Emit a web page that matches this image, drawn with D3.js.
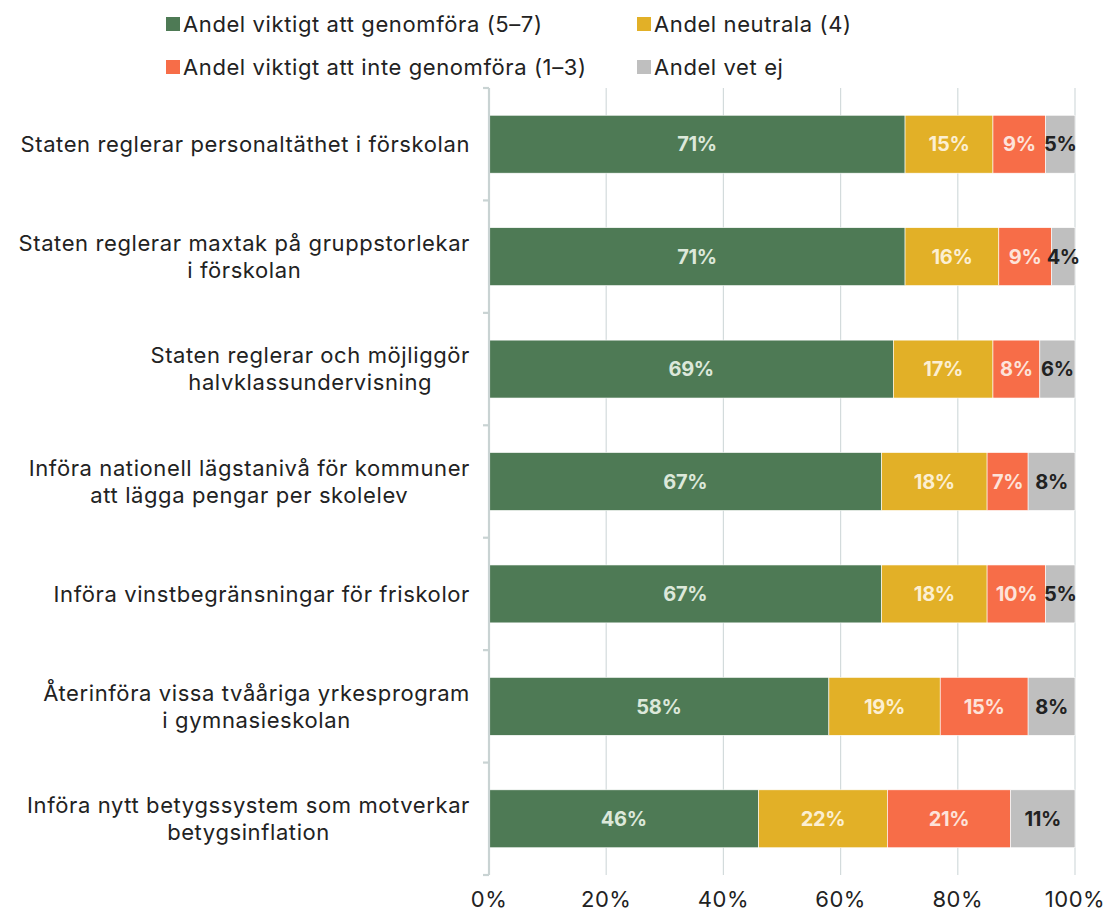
<!DOCTYPE html>
<html>
<head>
<meta charset="utf-8">
<script src="https://cdn.jsdelivr.net/npm/d3@7"></script>
<style>
  body { margin: 0; background: #fff; }
  text { font-family: Inter, "Noto Sans", sans-serif; fill: #222; }
</style>
</head>
<body>
<svg id="chart"></svg>
<script>
// Chart size
const width = 1105;
const height = 917;
const margin = { top: 88, right: 30, bottom: 42, left: 489 };

// Data
const categories = [
  ["Staten reglerar personaltäthet i förskolan"],
  ["Staten reglerar maxtak på gruppstorlekar", "i förskolan"],
  ["Staten reglerar och möjliggör", "halvklassundervisning"],
  ["Införa nationell lägstanivå för kommuner", "att lägga pengar per skolelev"],
  ["Införa vinstbegränsningar för friskolor"],
  ["Återinföra vissa tvååriga yrkesprogram", "i gymnasieskolan"],
  ["Införa nytt betygssystem som motverkar", "betygsinflation"]
];
const seriesNames = [
  "Andel viktigt att genomföra (5–7)",
  "Andel neutrala (4)",
  "Andel viktigt att inte genomföra (1–3)",
  "Andel vet ej"
];
const viktigt = [71, 71, 69, 67, 67, 58, 46];
const neutrala = [15, 16, 17, 18, 18, 19, 22];
const inteViktigt = [9, 9, 8, 7, 10, 15, 21];
const vetEj = [5, 4, 6, 8, 5, 8, 11];
const xTicks = [0, 20, 40, 60, 80, 100];

const colors = ["#4E7A55", "#E2B027", "#F76D48", "#BFBFBF"];
const labelColors = ["#DCE8DA", "#FCEFD2", "#FDE3DA", "#222222"];

// Build rows for the stack
const rows = categories.map((c, i) => ({
  key: i,
  s0: viktigt[i], s1: neutrala[i], s2: inteViktigt[i], s3: vetEj[i]
}));
const stack = d3.stack().keys(["s0", "s1", "s2", "s3"])(rows);

const svg = d3.select("#chart").attr("width", width).attr("height", height);

const x = d3.scaleLinear().domain([0, 100]).range([margin.left, width - margin.right]);
const y = d3.scaleBand().domain(d3.range(categories.length))
  .range([margin.top, height - margin.bottom]).paddingInner(0.485).paddingOuter(0.2425);

// Gridlines
svg.append("g").selectAll("line")
  .data(xTicks.slice(1))
  .enter().append("line")
  .attr("x1", d => x(d)).attr("x2", d => x(d))
  .attr("y1", margin.top).attr("y2", height - margin.bottom)
  .attr("stroke", "#D3DBDC").attr("stroke-width", 1.2);

// Bars
const layer = svg.append("g").selectAll("g")
  .data(stack)
  .enter().append("g")
  .attr("fill", (d, i) => colors[i]);

layer.selectAll("rect")
  .data(d => d)
  .enter().append("rect")
  .attr("x", d => x(d[0]))
  .attr("y", (d, i) => y(i))
  .attr("width", d => x(d[1]) - x(d[0]))
  .attr("height", y.bandwidth())
  .attr("stroke", "#fff").attr("stroke-width", 0.6);

// Value labels
stack.forEach((s, si) => {
  svg.append("g").selectAll("text")
    .data(s)
    .enter().append("text")
    .attr("x", d => (x(d[0]) + x(d[1])) / 2)
    .attr("y", (d, i) => y(i) + y.bandwidth() / 2)
    .attr("dy", "0.36em")
    .attr("text-anchor", "middle")
    .style("font-size", "20px")
    .style("font-weight", 700)
    .style("fill", labelColors[si])
    .style("letter-spacing", "-0.3px")
    .text(d => (d[1] - d[0]) + "%");
});

// Y axis line and ticks
const axis = svg.append("g").attr("stroke", "#C9D3D3").attr("stroke-width", 2.2);
axis.append("line")
  .attr("x1", margin.left).attr("x2", margin.left)
  .attr("y1", margin.top).attr("y2", height - margin.bottom);
const step = (height - margin.bottom - margin.top) / categories.length;
axis.selectAll(".tick")
  .data(d3.range(categories.length + 1))
  .enter().append("line")
  .attr("x1", margin.left - 6).attr("x2", margin.left)
  .attr("y1", d => margin.top + d * step).attr("y2", d => margin.top + d * step);

// Category labels (centered lines, block right aligned)
const rightEdge = 470;
const catG = svg.append("g");
categories.forEach((lines, i) => {
  const g = catG.append("g");
  const cy = y(i) + y.bandwidth() / 2;
  const lh = 27;
  const texts = lines.map((l, j) => g.append("text")
    .attr("y", cy + (j - (lines.length - 1) / 2) * lh)
    .attr("dy", "0.36em")
    .attr("text-anchor", "middle")
    .style("font-size", "22px")
    .style("letter-spacing", "0.6px")
    .text(l));
  const maxW = d3.max(texts, t => t.node().getComputedTextLength());
  texts.forEach(t => t.attr("x", rightEdge - maxW / 2));
});

// X tick labels
svg.append("g").selectAll("text")
  .data(xTicks)
  .enter().append("text")
  .attr("x", d => x(d))
  .attr("y", height - margin.bottom + 32)
  .attr("text-anchor", "middle")
  .style("font-size", "22px")
  .style("letter-spacing", "0.5px")
  .text(d => d + "%");

// Legend
const legendPos = [[166, 24], [637, 24], [166, 67], [637, 67]];
const legend = svg.append("g").selectAll("g")
  .data(seriesNames)
  .enter().append("g")
  .attr("transform", (d, i) => "translate(" + legendPos[i][0] + "," + legendPos[i][1] + ")");
legend.append("rect")
  .attr("x", 0).attr("y", -7).attr("width", 14).attr("height", 14)
  .attr("fill", (d, i) => colors[i]);
legend.append("text")
  .attr("x", 17).attr("dy", "0.36em")
  .style("font-size", "22px")
  .style("letter-spacing", "0.6px")
  .text(d => d);
</script>
</body>
</html>
